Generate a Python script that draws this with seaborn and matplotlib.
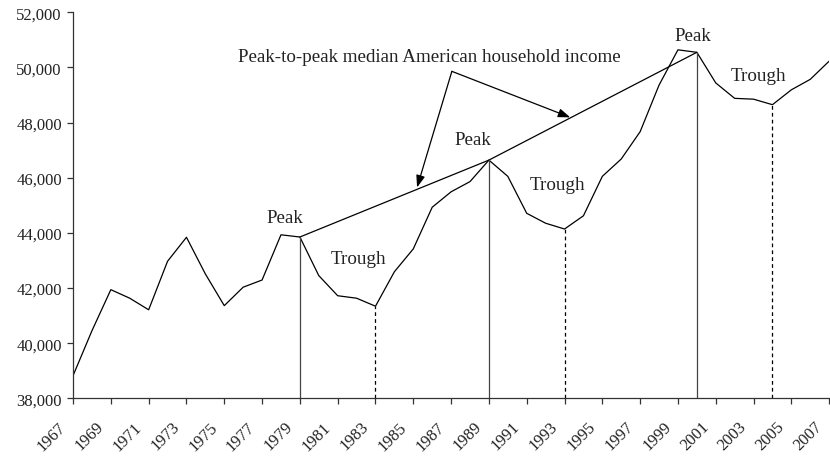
import matplotlib
matplotlib.use("Agg")
import matplotlib.pyplot as plt
import matplotlib.transforms as mtransforms
import seaborn as sns
import pandas as pd

years = list(range(1967, 2008))
income = [38820, 40450, 41940, 41630, 41210, 42970, 43840, 42510, 41360, 42030,
          42290, 43930, 43850, 42450, 41720, 41630, 41340, 42590, 43420, 44930,
          45490, 45860, 46640, 46050, 44710, 44350, 44140, 44620, 46050, 46680,
          47670, 49360, 50640, 50550, 49440, 48880, 48850, 48650, 49190, 49570,
          50230]
peak_years = [1979, 1989, 2000]
peak_values = [43850, 46640, 50550]
trough_years = [1983, 1993, 2004]
trough_values = [41340, 44140, 48650]
y_ticks = [38000, 40000, 42000, 44000, 46000, 48000, 50000, 52000]
x_ticks = list(range(1967, 2008, 2))
annotation_text = "Peak-to-peak median American household income"

sns.set_theme(style="ticks")
plt.rcParams["font.family"] = ["Liberation Serif", "DejaVu Serif"]

df = pd.DataFrame({"year": years, "income": income})
peaks = pd.DataFrame({"year": peak_years, "income": peak_values})

fig = plt.figure(figsize=(8.3, 4.6), dpi=100)
ax = fig.add_axes([0.088, 0.132, 0.911, 0.839])

sns.lineplot(data=df, x="year", y="income", ax=ax, color="black", linewidth=0.9)
sns.lineplot(data=peaks, x="year", y="income", ax=ax, color="black", linewidth=0.9)

ymin = 38000
for xv, yv in zip(peak_years, peak_values):
    ax.plot([xv, xv], [ymin, yv], color="#444444", linewidth=0.9)
for xv, yv in zip(trough_years, trough_values):
    ax.plot([xv, xv], [ymin, yv], color="black", linewidth=0.9, linestyle=(0, (3, 2.5)))

fs = 13.7
for xv, yv in zip([1978.2, 1988.16, 1999.77], [44565, 47405, 51177]):
    ax.text(xv, yv, "Peak", ha="center", va="center", fontsize=fs, color="#222222")
for xv, yv in zip([1982.08, 1992.6, 2003.24], [43053, 45737, 49727]):
    ax.text(xv, yv, "Trough", ha="center", va="center", fontsize=fs, color="#222222")

ax.text(1985.87, 50415, annotation_text, ha="center", va="center", fontsize=fs, color="#222222")
apex = (1987.04, 49860)
for target in [(1985.2, 45650), (1993.3, 48190)]:
    ax.annotate("", xy=target, xytext=apex,
                arrowprops=dict(arrowstyle="-|>,head_length=0.6,head_width=0.22",
                                color="black", linewidth=0.9, shrinkA=0, shrinkB=0))

ax.set_xlim(1967, 2007)
ax.set_ylim(38000, 52000)
ax.set_xticks(x_ticks)
ax.set_xticklabels([str(v) for v in x_ticks], rotation=45, ha="right", va="top",
                   rotation_mode="anchor", fontsize=12)
ax.set_yticks(y_ticks)
ax.set_yticklabels([f"{v:,}" for v in y_ticks], fontsize=12)
ax.tick_params(axis="both", direction="out", length=4, width=0.9, color="#333333",
               labelcolor="#222222", pad=4)
ax.tick_params(axis="x", pad=10.5)
offset = mtransforms.ScaledTranslation(-15 / 100, 0, fig.dpi_scale_trans)
for lbl in ax.get_xticklabels():
    lbl.set_transform(lbl.get_transform() + offset)
ax.set_xlabel("")
ax.set_ylabel("")
for s in ["top", "right"]:
    ax.spines[s].set_visible(False)
for s in ["left", "bottom"]:
    ax.spines[s].set_linewidth(0.9)
    ax.spines[s].set_color("#333333")

fig.savefig("out.png", dpi=100)
